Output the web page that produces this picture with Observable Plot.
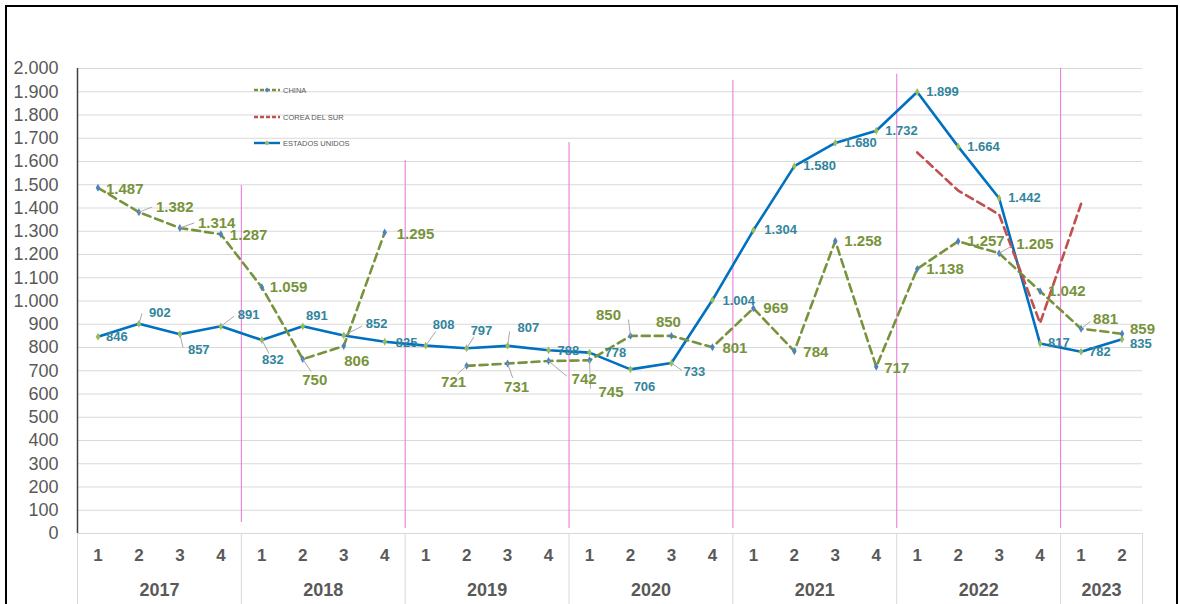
<!DOCTYPE html>
<html><head><meta charset="utf-8">
<script src="https://cdn.jsdelivr.net/npm/d3@7"></script>
<script src="https://cdn.jsdelivr.net/npm/@observablehq/plot@0.6"></script>
<style>
body{margin:0;background:#fff;font-family:"Liberation Sans",Arial,sans-serif;}
#wrap{position:relative;width:1180px;height:604px;overflow:hidden;background:#fff;}
#chart{position:absolute;left:0;top:0;}
#frame{position:absolute;left:5px;top:5px;width:1169px;height:660px;border:2px solid #000;pointer-events:none;}
#legend{position:absolute;left:254px;top:0;font-size:7.5px;color:#595959;}
.item{position:absolute;left:0;white-space:nowrap;display:flex;align-items:center;height:10px;}
.item svg{margin-right:2px;}
</style></head><body>
<div id="wrap"><div id="chart"></div><div id="legend"></div><div id="frame"></div></div>
<script>
// ---- data ----
const years = ["2017","2018","2019","2020","2021","2022","2023"];
const quarterLabels = ["1","2","3","4","1","2","3","4","1","2","3","4","1","2","3","4","1","2","3","4","1","2","3","4","1","2"];
const periodYears = ["2017","2017","2017","2017","2018","2018","2018","2018","2019","2019","2019","2019","2020","2020","2020","2020","2021","2021","2021","2021","2022","2022","2022","2022","2023","2023"];
const usa = [846,902,857,891,832,891,852,825,808,797,807,788,778,706,733,1004,1304,1580,1680,1732,1899,1664,1442,817,782,835];
const china = [1487,1382,1314,1287,1059,750,806,1295,null,721,731,742,745,850,850,801,969,784,1258,717,1138,1257,1205,1042,881,859];
const korea = [null,null,null,null,null,null,null,null,null,null,null,null,null,null,null,null,null,null,null,null,1639,1475,1372,905,1418,null];
const yTicks = [0,100,200,300,400,500,600,700,800,900,1000,1100,1200,1300,1400,1500,1600,1700,1800,1900,2000];
// year divider lines drawn in the plot (top / bottom in value units)
const dividerTops = [1497,1604,1682,1948,1975,2000];
const dividerBottoms = [47,21,21,21,21,21];
const seriesNames = ["CHINA","COREA DEL SUR","ESTADOS UNIDOS"];

// ---- label layout (pixel offsets from point) ----
const usaLabelOffsets = [[8,0],[10,-11],[8,16],[17,-12],[11,20,"middle"],[14,-11,"middle"],[22,-12],[11,1],[7,-21],[4,-17],[10,-18],[9,1],[15,0],[14,17,"middle"],[12,9],[10,1],[11,0],[9,0],[9,0],[9,0],[9,0],[9,0],[9,0],[8,-1],[8,0],[8,4]];
const chinaLabelOffsets = [[8,1],[17,-5],[18,-5],[9,1],[8,0],[12,21,"middle"],[13,15,"middle"],[12,2],null,[-13,16,"middle"],[9,24,"middle"],[23,18],[9,32],[-22,-21,"middle"],[-3,-14,"middle"],[10,1],[10,0],[9,1],[9,0],[8,1],[9,0],[9,0],[17,-9],[8,0],[12,-9],[8,-5]];
const usaLeaders = {1:[3,-10],2:[3,13],3:[13,-10],4:[7,13],6:[18,-9],8:[10,-14],9:[7,-11],10:[2,-14],14:[10,7]};
const chinaLeaders = {1:[13,-5],2:[14,-5],5:[8,12],9:[-9,8],10:[5,14],11:[18,15],12:[1,28],13:[-2,-16],22:[12,-7],24:[9,-7]};

// ---- build ----
const fmt = d3.formatLocale({decimal:",",thousands:".",grouping:[3],currency:["",""]}).format(",d");
const rows = quarterLabels.map((q,i)=>({i,q,year:periodYears[i],usa:usa[i],china:china[i],korea:korea[i]}));
const boundaries = years.slice(0,-1).map(y=>d3.max(rows.filter(r=>r.year===y),r=>r.i)+0.5);
const dividers = boundaries.map((x,k)=>({x,top:dividerTops[k],bottom:dividerBottoms[k]}));
const frameLines = [-0.5, ...boundaries, rows.length-0.5];
const yearRows = years.map(y=>{const r=rows.filter(d=>d.year===y);return {year:y,x:d3.mean(r,d=>d.i)};});
const lineShape = {draw(ctx,l){ctx.moveTo(0,0);ctx.lineTo(0,-l);}};

const USA_C="#0070c0", CHN_C="#77933c", KOR_C="#c0504d", USA_T="#31859c";

function leaderData(leaders, key){
  return Object.entries(leaders).map(([k,[lx,ly]])=>{const i=+k;return {i,v:rows[i][key],len:Math.hypot(lx,ly),rot:Math.atan2(lx,-ly)*180/Math.PI};});
}
function labelMarks(key, offsets, color, size){
  return rows.filter(r=>r[key]!=null && offsets[r.i]).map(r=>{
    const [dx,dy,anchor]=offsets[r.i];
    return Plot.text([r],{x:"i",y:key,text:d=>fmt(d[key]),dx,dy,textAnchor:anchor||"start",fill:color,fontSize:size,fontWeight:"bold"});
  });
}

const chart = Plot.plot({
  width:1180,height:604,marginLeft:77,marginRight:38,marginTop:68,marginBottom:71,
  style:{fontFamily:"Liberation Sans, Arial, sans-serif",background:"transparent"},
  x:{domain:[-0.5,rows.length-0.5],axis:null},
  y:{domain:[0,2000],axis:null},
  length:{type:"identity"},
  marks:[
    Plot.gridY(yTicks,{stroke:"#d9d9d9",strokeOpacity:1,strokeWidth:1}),
    Plot.axisY(yTicks,{tickSize:0,tickPadding:19,tickFormat:fmt,fontSize:18,fill:"#595959"}),
    Plot.ruleX(dividers,{x:"x",y1:"bottom",y2:"top",stroke:"#ea7fdc",strokeWidth:1.1}),
    Plot.vector(frameLines,{x:d=>d,y:()=>0,length:71,rotate:180,anchor:"start",shape:lineShape,stroke:"#d9d9d9",strokeWidth:1}),
    Plot.ruleX([-0.5],{y1:0,y2:2000,stroke:"#404040",strokeWidth:1.5}),
    Plot.line(rows,{x:"i",y:"usa",stroke:USA_C,strokeWidth:2.6}),
    Plot.line(rows,{x:"i",y:"china",stroke:CHN_C,strokeWidth:2.6,strokeDasharray:"8,5"}),
    Plot.line(rows,{x:"i",y:"korea",stroke:KOR_C,strokeWidth:2.6,strokeDasharray:"8,5"}),
    Plot.dot(rows,{x:"i",y:"usa",symbol:"diamond",r:2.4,fill:"#9bbb59",stroke:null}),
    Plot.dot(rows,{x:"i",y:"china",symbol:"diamond",r:2.4,fill:"#4f81bd",stroke:null}),
    Plot.vector(leaderData(usaLeaders,"usa"),{x:"i",y:"v",length:"len",rotate:"rot",anchor:"start",shape:lineShape,stroke:"#a6a6a6",strokeWidth:0.9}),
    Plot.vector(leaderData(chinaLeaders,"china"),{x:"i",y:"v",length:"len",rotate:"rot",anchor:"start",shape:lineShape,stroke:"#a6a6a6",strokeWidth:0.9}),
    ...labelMarks("usa",usaLabelOffsets,USA_T,13),
    ...labelMarks("china",chinaLabelOffsets,CHN_C,15),
    Plot.text(rows,{x:"i",y:()=>0,text:"q",dy:22,fontSize:17,fontWeight:"bold",fill:"#595959"}),
    Plot.text(yearRows,{x:"x",y:()=>0,text:"year",dy:57,fontSize:18,fontWeight:"bold",fill:"#595959"})
  ]
});
document.getElementById("chart").appendChild(chart);

// legend
const legendStyles = [
  {color:CHN_C,dash:"4,2",marker:"#4f81bd",top:85},
  {color:KOR_C,dash:"4,2",marker:null,top:112},
  {color:USA_C,dash:null,marker:"#9bbb59",top:138}
];
const leg = document.getElementById("legend");
seriesNames.forEach((name,k)=>{
  const s=legendStyles[k];
  const div=document.createElement("div");div.className="item";div.style.top=s.top+"px";
  div.innerHTML=`<svg width="27" height="8"><line x1="0" y1="4" x2="26" y2="4" stroke="${s.color}" stroke-width="2.4" ${s.dash?`stroke-dasharray="${s.dash}"`:""}/>${s.marker?`<path d="M13,1.6L15.4,4L13,6.4L10.6,4Z" fill="${s.marker}"/>`:""}</svg><span>${name}</span>`;
  leg.appendChild(div);
});
</script>
</body></html>
